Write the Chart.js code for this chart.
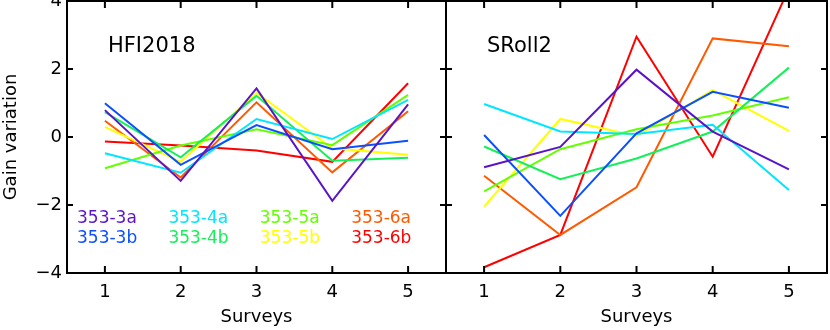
<!DOCTYPE html>
<html><head><meta charset="utf-8">
<script src="https://cdn.jsdelivr.net/npm/chart.js@4.4.1/dist/chart.umd.min.js"></script>
<style>
html,body{margin:0;padding:0;background:#fff;}
#wrap{position:relative;width:830px;height:330px;overflow:hidden;background:#fff;}
#c1{position:absolute;left:0;top:0;}
#c2{position:absolute;left:446px;top:0;}
</style></head><body>
<div id="wrap">
<canvas id="c1" width="447" height="330"></canvas>
<canvas id="c2" width="384" height="330"></canvas>
</div>
<script>
// ---- data ----
const surveys = [1, 2, 3, 4, 5];
const yTicks = [-4, -2, 0, 2, 4];
const detectors = ['353-3a', '353-3b', '353-4a', '353-4b', '353-5a', '353-5b', '353-6a', '353-6b'];
const detColors = ['#5a14c8', '#0a50ff', '#00e6ff', '#14f05a', '#64ff00', '#ffff00', '#ff5a00', '#ff0000'];
const panelTitles = ['HFI2018', 'SRoll2'];

// HFI2018 panel
const hfi_3a = [0.79, -1.29, 1.43, -1.88, 0.96];
const hfi_3b = [0.99, -0.82, 0.35, -0.36, -0.11];
const hfi_4a = [-0.48, -1.05, 0.53, -0.06, 1.09];
const hfi_4b = [0.73, -0.60, 1.21, -0.70, -0.61];
const hfi_5a = [-0.92, -0.25, 0.23, -0.24, 1.24];
const hfi_5b = [0.30, -0.73, 1.30, -0.33, -0.52];
const hfi_6a = [0.48, -1.19, 1.02, -1.04, 0.76];
const hfi_6b = [-0.13, -0.25, -0.40, -0.73, 1.58];

// SRoll2 panel
const sr_3a = [-0.89, -0.29, 1.98, 0.16, -0.95];
const sr_3b = [0.06, -2.32, 0.11, 1.33, 0.86];
const sr_4a = [0.97, 0.16, 0.09, 0.36, -1.56];
const sr_4b = [-0.28, -1.24, -0.63, 0.16, 2.04];
const sr_5a = [-1.60, -0.36, 0.23, 0.63, 1.17];
const sr_5b = [-2.05, 0.53, 0.03, 1.38, 0.18];
const sr_6a = [-1.14, -2.88, -1.48, 2.90, 2.67];
const sr_6b = [-3.83, -2.88, 2.95, -0.58, 4.37];

const hfiSeries = [hfi_3a, hfi_3b, hfi_4a, hfi_4b, hfi_5a, hfi_5b, hfi_6a, hfi_6b];
const srSeries = [sr_3a, sr_3b, sr_4a, sr_4b, sr_5a, sr_5b, sr_6a, sr_6b];

const FONT = 'DejaVu Sans';

function makeDatasets(series) {
  return series.map((vals, i) => ({
    label: detectors[i],
    data: vals.map((v, j) => ({x: surveys[j], y: v})),
    borderColor: detColors[i],
    backgroundColor: detColors[i],
    borderWidth: 2,
    pointRadius: 0,
    tension: 0,
    fill: false
  }));
}

const framePlugin = {
  id: 'frame',
  afterDatasetsDraw(chart) {
    const {ctx, chartArea: a, scales} = chart;
    const x = scales.x, y = scales.y;
    ctx.save();
    ctx.strokeStyle = '#000';
    ctx.lineWidth = 2;
    ctx.strokeRect(a.left, a.top, a.right - a.left, a.bottom - a.top);
    ctx.beginPath();
    for (const v of surveys) {
      const px = x.getPixelForValue(v);
      ctx.moveTo(px, a.bottom); ctx.lineTo(px, a.bottom - 7);
      ctx.moveTo(px, a.top); ctx.lineTo(px, a.top + 7);
    }
    for (const v of yTicks) {
      const py = y.getPixelForValue(v);
      ctx.moveTo(a.left, py); ctx.lineTo(a.left + 6, py);
      ctx.moveTo(a.right, py); ctx.lineTo(a.right - 6, py);
    }
    ctx.stroke();
    // panel title
    const t = chart.options.plugins.panelTitle;
    ctx.fillStyle = '#000';
    ctx.font = '21px "' + FONT + '"';
    ctx.textBaseline = 'middle';
    ctx.textAlign = 'left';
    ctx.fillText(t.text, a.left + 41, a.top + 46);
    // legend
    if (t.legend) {
      ctx.font = '17px "' + FONT + '"';
      chart.data.datasets.forEach((ds, k) => {
        const col = Math.floor(k / 2), row = k % 2;
        ctx.fillStyle = ds.borderColor;
        ctx.fillText(ds.label, a.left + 10 + col * 91.4, 219 + row * 19.5);
      });
    }
    ctx.restore();
  }
};

function xScale() {
  return {
    type: 'linear', min: 0.5, max: 5.5,
    afterBuildTicks: s => { s.ticks = surveys.map(v => ({value: v})); },
    afterFit: s => { s.height = 57; s.paddingLeft = 0; s.paddingRight = 0; },
    grid: {display: false, drawTicks: false},
    border: {display: false},
    ticks: {padding: 9, color: '#000', font: {family: FONT, size: 18}, maxRotation: 0},
    title: {display: true, text: 'Surveys', color: '#000', font: {family: FONT, size: 18}, padding: {top: 0, bottom: 2}}
  };
}

function makeChart(id, series, title, showY) {
  const yCfg = {
    type: 'linear', min: -4, max: 4,
    afterBuildTicks: s => { s.ticks = yTicks.map(v => ({value: v})); },
    grid: {display: false, drawTicks: false},
    border: {display: false},
    display: showY,
    ticks: {padding: 5, color: '#000', font: {family: FONT, size: 18},
      callback: v => (v < 0 ? '\u2212' + Math.abs(v) : String(v))},
    title: {display: showY, text: 'Gain variation', color: '#000', font: {family: FONT, size: 18}, padding: {top: 1, bottom: 0}}
  };
  if (showY) yCfg.afterFit = s => { s.width = 67; s.paddingTop = 0; s.paddingBottom = 0; };
  return new Chart(document.getElementById(id), {
    type: 'line',
    data: {datasets: makeDatasets(series)},
    options: {
      responsive: false,
      animation: false,
      devicePixelRatio: 1,
      layout: {padding: {top: 1, right: showY ? 1 : 3, left: 0, bottom: 0}},
      plugins: {legend: {display: false}, tooltip: {enabled: false},
        panelTitle: {text: title, legend: showY}},
      scales: {x: xScale(), y: yCfg}
    },
    plugins: [framePlugin]
  });
}

makeChart('c1', hfiSeries, panelTitles[0], true);
makeChart('c2', srSeries, panelTitles[1], false);
</script>
</body></html>
